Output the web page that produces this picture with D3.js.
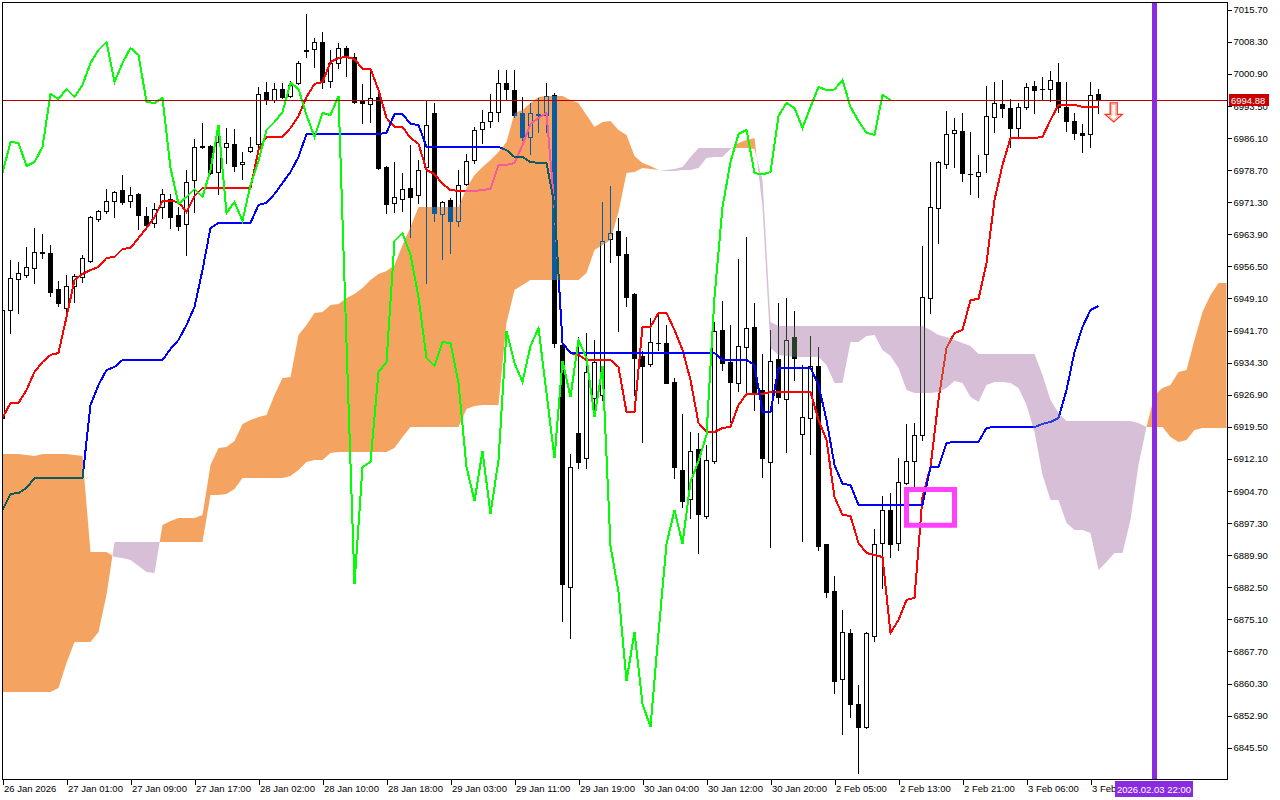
<!DOCTYPE html>
<html><head><meta charset="utf-8">
<script src="https://cdn.jsdelivr.net/npm/d3@7"></script>
<style>body{margin:0;background:#fff;}svg{display:block;}</style>
</head><body>
<svg id="c" width="1280" height="800"></svg>
<script>
// ---------- DATA ----------
const open = [6921.54,6946.44,6953.60,6954.52,6956.14,6959.60,6959.60,6951.29,6946.91,6951.99,
6954.06,6957.75,6967.44,6969.28,6971.59,6974.12,6971.59,6973.20,6968.13,6966.52,
6970.21,6972.05,6968.36,6966.29,6976.43,6984.04,6984.27,6978.28,6984.04,6984.73,
6980.12,6983.12,6984.73,6996.72,6994.88,6997.41,6995.80,6998.80,7006.18,7006.64,
7008.25,6999.26,7003.41,7006.87,7004.79,6994.88,6993.96,6995.57,6979.43,6971.13,
6972.05,6974.59,6972.97,6979.43,6991.88,6968.59,6971.82,6966.98,6975.51,6981.04,
6988.19,6990.04,6992.11,6998.80,6997.18,6991.88,6986.35,6991.65,6991.42,6996.03,
6938.37,6882.57,6918.08,6912.31,6926.15,6926.84,6962.83,6964.67,6959.37,6950.14,
6935.84,6933.99,6938.83,6938.83,6929.84,6909.55,6902.86,6914.39,6898.94,6911.62,
6941.83,6934.45,6929.61,6937.91,6942.52,6927.99,6911.39,6935.14,6925.92,6940.22,
6917.85,6921.54,6933.53,6892.48,6881.64,6861.35,6871.96,6855.59,6850.28,6871.27,
6892.71,6900.32,6892.71,6906.55,6911.62,6917.62,6949.22,6969.98,6980.12,6987.27,
6987.73,6977.81,6977.35,6982.43,6990.96,6993.96,6993.04,6988.42,6993.27,6998.11,
6997.41,6997.41,6999.03,6993.27,6990.04,6987.27,6987.04,6996.26];
const high = [6947.60,6957.98,6957.52,6960.98,6965.36,6963.98,6961.44,6953.14,6954.52,6954.75,
6959.14,6968.13,6969.51,6974.35,6973.89,6977.58,6974.82,6973.43,6970.21,6971.13,
6974.35,6973.20,6970.21,6978.74,6985.89,6989.58,6984.50,6988.88,6988.42,6988.19,
6982.89,6986.35,6997.88,6999.03,6998.80,6998.80,6999.26,7003.87,7014.71,7009.18,
7010.56,7006.41,7008.02,7007.33,7005.72,6998.57,7001.80,6997.18,6979.66,6980.58,
6978.04,6984.50,6981.04,6994.88,6994.19,6971.59,6972.28,6978.74,6982.43,6988.65,
6992.57,6996.26,7001.80,7001.80,7001.80,6995.57,6994.19,6995.34,6998.80,6996.49,
6938.83,6913.24,6940.22,6941.14,6939.53,6971.36,6975.05,6967.67,6963.29,6950.37,
6936.99,6944.60,6945.98,6942.98,6930.76,6922.46,6918.31,6918.08,6915.31,6943.68,
6948.52,6942.98,6958.21,6963.29,6948.06,6936.30,6941.83,6948.06,6949.22,6946.21,
6933.76,6940.45,6937.91,6892.48,6885.10,6877.26,6872.88,6859.97,6872.19,6895.94,
6903.55,6904.24,6912.31,6920.16,6920.39,6961.21,6980.58,6980.81,6992.34,6990.73,
6991.88,6987.50,6982.20,6998.11,6999.03,6999.49,6995.11,6994.19,6998.80,6999.26,
7000.18,7001.57,7003.41,6999.03,6991.88,6989.35,6999.03,6997.41];
const low = [6921.08,6941.14,6945.75,6954.06,6952.68,6958.44,6949.68,6947.37,6944.14,6948.29,
6952.91,6957.52,6966.98,6968.82,6967.90,6970.90,6970.21,6965.13,6965.13,6965.59,
6967.67,6965.36,6964.90,6959.14,6969.05,6983.81,6977.81,6973.20,6980.35,6978.51,
6976.66,6982.89,6984.04,6993.96,6994.42,6995.34,6995.57,6998.57,7004.79,7002.49,
6997.65,6997.88,7002.26,7000.41,6994.19,6989.58,6989.81,6978.97,6968.82,6969.05,
6969.28,6963.29,6971.13,6952.68,6966.98,6958.21,6959.60,6965.82,6975.28,6980.35,
6984.96,6988.65,6990.04,6994.88,6990.96,6985.66,6982.43,6987.50,6987.50,6937.91,
6874.73,6870.81,6910.01,6910.01,6922.23,6925.69,6957.52,6941.60,6947.37,6926.84,
6916.00,6933.53,6937.22,6929.61,6907.70,6901.02,6898.48,6890.41,6898.48,6911.16,
6932.61,6920.62,6927.76,6926.84,6923.38,6907.93,6891.79,6925.00,6913.70,6930.30,
6893.17,6913.24,6891.10,6880.26,6858.12,6848.67,6852.59,6839.67,6850.05,6870.11,
6882.34,6889.48,6891.10,6906.32,6905.63,6916.47,6945.75,6961.90,6979.20,6979.43,
6976.20,6973.20,6972.51,6978.28,6987.50,6990.96,6984.04,6986.35,6992.80,6991.88,
6995.11,6994.65,6992.11,6987.73,6985.89,6982.89,6984.04,6991.88];
const close = [6946.44,6953.83,6954.98,6956.37,6959.83,6959.83,6950.60,6948.06,6951.99,6954.29,
6958.44,6967.90,6969.28,6971.59,6973.66,6971.36,6972.97,6968.36,6966.05,6969.74,
6973.20,6967.90,6965.82,6975.97,6984.04,6984.27,6978.04,6985.19,6984.96,6979.66,
6980.58,6984.04,6996.26,6995.11,6997.41,6995.57,6998.34,7003.41,7006.41,7008.25,
6999.03,7003.41,7006.87,7005.26,6994.42,6994.19,6995.34,6979.20,6970.90,6972.51,
6974.35,6972.51,6978.74,6989.12,6968.82,6971.36,6966.98,6975.28,6980.81,6987.96,
6989.81,6992.11,6998.80,6997.41,6991.42,6986.35,6991.88,6991.42,6995.80,6938.83,
6883.26,6910.24,6911.39,6932.15,6934.45,6962.36,6964.21,6959.14,6949.45,6935.37,
6933.53,6939.06,6938.83,6929.61,6910.24,6902.40,6913.93,6899.40,6911.85,6941.60,
6934.22,6929.84,6938.14,6942.29,6927.30,6912.31,6934.68,6926.38,6939.53,6935.37,
6921.77,6933.53,6892.02,6881.41,6860.89,6872.19,6855.59,6850.28,6871.96,6892.48,
6900.32,6892.48,6906.78,6911.62,6917.62,6949.45,6970.21,6980.58,6987.04,6987.96,
6978.04,6977.70,6978.28,6991.19,6994.19,6993.04,6988.42,6993.27,6997.88,6997.18,
6997.30,6999.49,6993.27,6990.04,6987.27,6986.81,6996.03,6994.88];
const tenkan = [6921.54,6925.00,6925.00,6927.99,6932.15,6934.45,6936.07,6936.53,6944.83,6953.37,
6954.75,6955.68,6956.37,6958.44,6958.67,6960.52,6960.75,6963.06,6965.36,6967.90,
6971.59,6971.59,6971.36,6969.05,6972.74,6974.58,6974.58,6974.58,6974.58,6974.58,
6974.58,6974.58,6983.35,6986.35,6986.35,6986.35,6988.42,6991.19,6995.57,6998.57,
6999.03,7003.64,7004.56,7004.79,7004.33,7002.03,7002.03,6997.18,6990.73,6988.65,
6988.65,6986.12,6984.73,6978.74,6977.81,6975.51,6974.12,6973.89,6973.89,6973.89,
6974.12,6974.35,6979.89,6979.89,6980.35,6984.50,6989.35,6990.73,6991.88,6969.98,
6938.83,6936.53,6936.07,6934.91,6934.91,6934.91,6934.91,6933.30,6922.92,6922.92,
6942.52,6942.52,6945.75,6945.75,6941.83,6937.22,6930.30,6920.39,6918.31,6918.31,
6919.24,6919.47,6924.54,6927.07,6927.07,6927.07,6927.53,6927.53,6927.53,6927.53,
6927.53,6927.53,6921.08,6916.47,6903.32,6899.17,6898.94,6892.71,6890.41,6889.94,
6889.48,6871.96,6874.96,6879.57,6880.03,6903.32,6910.24,6925.69,6937.68,6941.14,
6941.83,6948.75,6948.98,6957.29,6971.82,6979.89,6986.12,6986.12,6986.12,6986.12,
6986.35,6990.27,6993.73,6993.73,6993.73,6993.27,6993.27,6993.27];
const kijun = [6900.32,6904.01,6904.24,6905.40,6907.70,6907.70,6907.70,6907.70,6907.70,6907.70,
6907.70,6924.54,6929.15,6932.61,6933.30,6934.91,6934.91,6934.91,6934.91,6934.91,
6934.91,6937.45,6939.53,6942.98,6947.14,6955.68,6965.36,6966.52,6966.52,6966.52,
6966.52,6966.52,6970.67,6971.13,6973.20,6975.74,6978.28,6981.73,6987.04,6987.04,
6987.04,6987.04,6987.04,6987.04,6987.04,6987.04,6987.04,6987.04,6987.27,6991.65,
6991.65,6989.35,6989.12,6984.04,6984.04,6984.04,6984.04,6984.04,6984.04,6984.04,
6984.04,6984.04,6984.04,6983.35,6981.73,6981.73,6980.58,6980.35,6980.35,6970.67,
6938.83,6936.53,6936.53,6936.53,6936.53,6936.53,6936.53,6936.53,6936.53,6936.53,
6936.53,6936.53,6936.53,6936.53,6936.53,6936.53,6936.53,6936.53,6936.53,6936.53,
6934.91,6934.91,6934.91,6934.91,6933.76,6922.92,6922.92,6933.07,6933.07,6933.07,
6933.07,6933.07,6929.15,6921.08,6910.70,6906.32,6906.09,6901.48,6901.48,6901.48,
6901.48,6901.48,6901.48,6901.48,6901.48,6901.48,6910.24,6910.24,6915.77,6916.00,
6916.00,6916.00,6916.00,6919.24,6919.47,6919.47,6919.47,6919.47,6919.47,6919.47,
6920.16,6920.62,6921.54,6927.99,6936.76,6942.52,6946.44,6947.37];
// Senkou spans as plotted (already shifted 26 bars forward), bar 0 .. 153
const senkouA = [6913.24,6913.24,6913.24,6913.01,6912.78,6913.24,6913.24,6913.24,6913.24,6913.01,
6912.78,6890.64,6890.64,6890.64,6889.48,6889.25,6888.79,6887.41,6886.02,6885.79,
6896.86,6897.79,6898.48,6898.48,6898.48,6899.17,6910.70,6914.62,6914.85,6916.24,
6920.16,6921.08,6921.77,6922.23,6926.84,6930.76,6930.99,6940.68,6942.98,6945.75,
6945.98,6947.60,6947.83,6949.22,6950.14,6951.52,6953.37,6954.75,6955.45,6956.83,
6961.44,6965.59,6970.21,6970.21,6970.21,6970.21,6970.21,6970.21,6974.59,6977.58,
6979.43,6981.04,6982.89,6985.19,6991.88,6992.57,6994.19,6995.57,6995.80,6995.80,
6995.80,6994.88,6994.19,6991.42,6988.65,6989.81,6990.04,6987.96,6986.81,6981.97,
6980.35,6979.66,6978.74,6978.51,6978.51,6978.74,6978.74,6979.20,6981.50,6981.73,
6981.73,6983.58,6984.96,6985.66,6986.12,6970.21,6937.68,6936.07,6935.84,6935.61,
6935.61,6935.61,6935.61,6933.76,6929.61,6929.61,6939.06,6939.06,6940.45,6940.68,
6937.22,6935.84,6933.07,6927.99,6927.30,6927.30,6927.30,6927.53,6928.45,6930.07,
6929.61,6926.38,6925.23,6929.15,6929.84,6929.84,6929.61,6928.45,6924.54,6918.31,
6908.40,6902.63,6902.63,6897.32,6895.71,6895.71,6895.02,6886.48,6888.33,6890.41,
6890.41,6898.02,6910.70,6919.47,6926.84,6928.45,6929.15,6932.15,6932.61,6939.53,
6945.98,6949.91,6952.68,6952.68];
const senkouB = [6858.35,6858.35,6858.35,6858.35,6858.35,6858.35,6858.35,6859.27,6865.04,6869.88,
6869.88,6869.88,6872.19,6880.72,6892.94,6892.94,6892.94,6892.94,6892.94,6892.94,
6892.94,6892.94,6892.94,6892.94,6892.94,6892.94,6903.78,6903.78,6904.01,6905.17,
6907.70,6907.70,6907.70,6907.70,6907.70,6907.70,6908.17,6909.55,6911.39,6911.85,
6911.85,6913.47,6913.70,6913.70,6913.70,6913.70,6913.70,6913.70,6913.70,6914.62,
6917.16,6919.47,6919.47,6919.47,6919.47,6919.47,6919.47,6919.47,6923.61,6924.30,
6924.54,6924.54,6924.54,6943.45,6951.06,6952.22,6953.37,6953.37,6953.37,6953.37,
6953.37,6953.37,6953.37,6954.98,6960.29,6961.44,6962.59,6969.05,6978.04,6978.28,
6979.20,6978.97,6978.74,6978.74,6978.97,6979.43,6981.73,6983.81,6983.81,6983.81,
6983.81,6983.81,6983.81,6983.81,6983.58,6976.43,6943.68,6942.75,6942.75,6942.75,
6942.75,6942.75,6942.75,6942.75,6942.75,6942.75,6942.75,6942.75,6942.75,6942.75,
6942.75,6942.75,6942.75,6942.75,6942.75,6942.75,6941.83,6940.68,6940.22,6939.53,
6938.83,6938.14,6936.30,6936.30,6936.30,6936.30,6936.30,6936.30,6936.30,6936.30,
6931.46,6925.69,6922.69,6920.85,6920.85,6920.85,6920.85,6920.85,6920.85,6920.85,
6920.85,6920.85,6920.39,6919.47,6919.47,6919.47,6917.16,6916.00,6916.47,6918.77,
6919.24,6919.24,6919.24,6919.24];
const chikouShift = 26;
const timeLabels = ["26 Jan 2026","27 Jan 01:00","27 Jan 09:00","27 Jan 17:00","28 Jan 02:00","28 Jan 10:00",
"28 Jan 18:00","29 Jan 03:00","29 Jan 11:00","29 Jan 19:00","30 Jan 04:00","30 Jan 12:00","30 Jan 20:00",
"2 Feb 05:00","2 Feb 13:00","2 Feb 21:00","3 Feb 06:00","3 Feb"];
const timeLabelBars = [0,8,16,24,32,40,48,56,64,72,80,88,96,104,112,120,128,136];
const priceTicks = [7015.70,7008.30,7000.90,6993.50,6986.10,6978.70,6971.30,6963.90,6956.50,6949.10,
6941.70,6934.30,6926.90,6919.50,6912.10,6904.70,6897.30,6889.90,6882.50,6875.10,6867.70,6860.30,6852.90,6845.50];
const currentPrice = 6994.88;
const vlineBar = 144, vlineLabel = "2026.02.03 22:00";
const boxBars = [113, 119], boxPrices = [6905.05, 6896.80];
const arrowBar = 139, arrowPrice = 6994.2;

// ---------- CHART ----------
const W = 1280, H = 800, R = 1227.5, B = 779.5;
const FONT = "'Liberation Sans', Arial, sans-serif";
const FS = 9.5;
const svg = d3.select("#c");
const x = d3.scaleLinear().domain([0, 1]).range([2.5, 10.5]);
const y = d3.scaleLinear().domain([6845.5, 7015.7]).range([747.7, 9.7]);

svg.append("rect").attr("width", W).attr("height", H).attr("fill", "#fff");
svg.append("defs").append("clipPath").attr("id", "plot")
  .append("rect").attr("x", 3).attr("y", 3).attr("width", R - 3).attr("height", B - 3);
const plot = svg.append("g").attr("clip-path", "url(#plot)");
plot.append("rect").attr("x", 0).attr("y", 0).attr("width", W).attr("height", H).attr("fill", "#fff");

// candles
const idx = d3.range(close.length);
const cg = plot.append("g").attr("shape-rendering", "crispEdges");
cg.selectAll("line.w").data(idx).join("line").attr("class", "w")
  .attr("x1", i => x(i)).attr("x2", i => x(i))
  .attr("y1", i => Math.round(y(high[i]))).attr("y2", i => Math.round(y(low[i])) + 1)
  .attr("stroke", "#000").attr("stroke-width", 1);
idx.forEach(i => {
  const cx = x(i);
  const t = Math.round(y(Math.max(open[i], close[i]))) + 0.5;
  const b = Math.round(y(Math.min(open[i], close[i]))) + 0.5;
  if (b - t < 1) {
    cg.append("line").attr("x1", cx - 2.5).attr("x2", cx + 2.5).attr("y1", t).attr("y2", t)
      .attr("stroke", "#000");
  } else {
    cg.append("rect").attr("x", cx - 2).attr("y", t).attr("width", 4).attr("height", b - t)
      .attr("fill", close[i] >= open[i] ? "#fff" : "#000").attr("stroke", "#000");
  }
});

const line = d3.line().x((d, i) => x(i)).y(d => y(d));
const lg = plot.append("g").attr("shape-rendering", "crispEdges").attr("fill", "none").attr("stroke-width", 2);
lg.append("path").datum(tenkan).attr("d", line).attr("stroke", "#ff0000");
lg.append("path").datum(kijun).attr("d", line).attr("stroke", "#0000ff");

// cloud (blended like the terminal does: difference with inverted colours)
const runs = [];
let runUp = null, ra = [], rb = [];
for (let i = 0; i < senkouA.length; i++) {
  const a = senkouA[i], b = senkouB[i], up = a >= b;
  if (runUp === null) { runUp = up; ra = [[i, a]]; rb = [[i, b]]; continue; }
  if (up === runUp) { ra.push([i, a]); rb.push([i, b]); }
  else {
    const a0 = senkouA[i - 1], b0 = senkouB[i - 1];
    const t = (a0 - b0) / ((a0 - b0) - (a - b));
    const xi = i - 1 + t, yi = a0 + t * (a - a0);
    ra.push([xi, yi]); rb.push([xi, yi]);
    runs.push({ up: runUp, pts: ra.concat(rb.slice().reverse()) });
    runUp = up; ra = [[xi, yi], [i, a]]; rb = [[xi, yi], [i, b]];
  }
}
runs.push({ up: runUp, pts: ra.concat(rb.slice().reverse()) });
const poly = d3.line().x(d => x(d[0])).y(d => y(d[1]));
const cloud = plot.append("g").style("mix-blend-mode", "difference");
cloud.selectAll("path").data(runs).join("path")
  .attr("d", d => poly(d.pts) + "Z")
  .attr("fill", d => d.up ? "#0b5b9f" : "#274027");

// chikou
const chikou = close.slice(chikouShift);
plot.append("path").datum(chikou).attr("d", line).attr("fill", "none").attr("stroke", "#00ff00")
  .attr("stroke-width", 2).attr("shape-rendering", "crispEdges");

// current price line
plot.append("line").attr("x1", 3).attr("x2", R).attr("y1", Math.round(y(currentPrice)) + 0.5).attr("y2", Math.round(y(currentPrice)) + 0.5)
  .attr("stroke", "#b40000").attr("stroke-width", 1);

// vertical line
plot.append("line").attr("x1", x(vlineBar)).attr("x2", x(vlineBar)).attr("y1", 0).attr("y2", B)
  .attr("stroke", "#8a2be2").attr("stroke-width", 5);

// rectangle object
plot.append("rect").attr("x", x(boxBars[0])).attr("y", y(boxPrices[0]))
  .attr("width", x(boxBars[1]) - x(boxBars[0])).attr("height", y(boxPrices[1]) - y(boxPrices[0]))
  .attr("fill", "none").attr("stroke", "#ff40ff").attr("stroke-width", 5);

// sell arrow
const ax = x(arrowBar) - 0.8, ay = y(arrowPrice);
plot.append("path")
  .attr("d", `M${ax-3.5},${ay} L${ax+3.5},${ay} L${ax+3.5},${ay+11.5} L${ax+8.5},${ay+11.5} L${ax},${ay+19} L${ax-8.5},${ay+11.5} L${ax-3.5},${ay+11.5} Z`)
  .attr("fill", "#fff").attr("stroke", "#ff3020").attr("stroke-width", 1.3);
plot.append("path")
  .attr("d", `M${ax-2},${ay+1.5} L${ax+2},${ay+1.5} L${ax+2},${ay+13} L${ax+5},${ay+13} L${ax},${ay+17} L${ax-5},${ay+13} L${ax-2},${ay+13} Z`)
  .attr("fill", "none").attr("stroke", "#ffb090").attr("stroke-width", 1);

// frame
const fr = svg.append("g").attr("stroke", "#000").attr("shape-rendering", "crispEdges");
fr.append("line").attr("x1", 2).attr("x2", R).attr("y1", 2.5).attr("y2", 2.5);
fr.append("line").attr("x1", 2.5).attr("x2", 2.5).attr("y1", 2).attr("y2", B);
fr.append("line").attr("x1", R).attr("x2", R).attr("y1", 2).attr("y2", B + 0.5);
fr.append("line").attr("x1", 2).attr("x2", R).attr("y1", B).attr("y2", B);

// axes
const yAxis = d3.axisRight(y).tickValues(priceTicks).tickSize(4).tickPadding(2).tickFormat(d => d.toFixed(2));
const gy = svg.append("g").attr("transform", `translate(${R},0)`).call(yAxis);
gy.select(".domain").remove();
gy.attr("font-family", FONT).attr("font-size", FS);
gy.selectAll("text").attr("fill", "#000");
gy.selectAll("line").attr("shape-rendering", "crispEdges");

const xAxis = d3.axisBottom(x).tickValues(timeLabelBars).tickSize(5).tickFormat((d, i) => timeLabels[i]);
const gx = svg.append("g").attr("transform", `translate(0,${B})`).call(xAxis);
gx.select(".domain").remove();
gx.attr("font-family", FONT).attr("font-size", FS);
gx.selectAll("text").attr("text-anchor", "start").attr("x", 1).attr("y", 6).attr("fill", "#000");
gx.selectAll("line").attr("shape-rendering", "crispEdges");

// current price label
const py = y(currentPrice);
svg.append("rect").attr("x", 1229).attr("y", Math.round(py) - 6).attr("width", 40).attr("height", 12).attr("fill", "#c80000");
svg.append("text").attr("x", 1231).attr("y", Math.round(py) + 3.5).attr("fill", "#fff")
  .attr("font-family", FONT).attr("font-size", FS).text(currentPrice.toFixed(2));

// vertical line time label
svg.append("rect").attr("x", 1115).attr("y", 781).attr("width", 78).attr("height", 16).attr("fill", "#8a2be2");
svg.append("text").attr("x", 1117).attr("y", 792.5).attr("fill", "#fff")
  .attr("font-family", FONT).attr("font-size", FS).text(vlineLabel);
</script>
</body></html>
